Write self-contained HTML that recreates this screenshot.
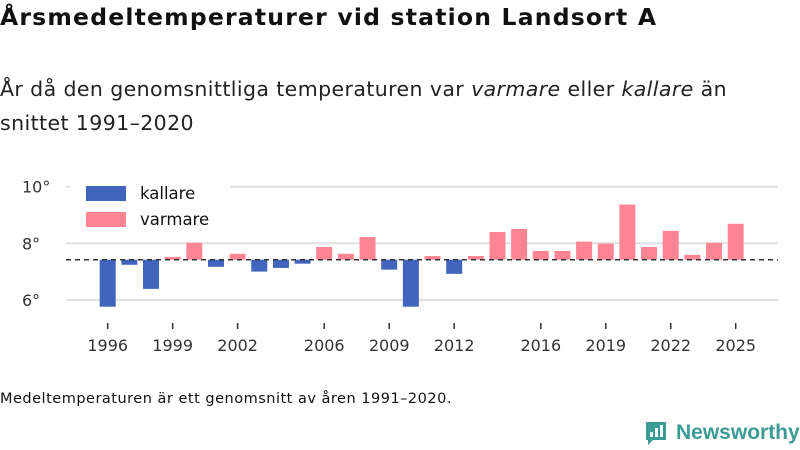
<!DOCTYPE html>
<html><head><meta charset="utf-8"><style>
body{margin:0;width:800px;height:450px;background:#fff;font-family:"DejaVu Sans","Liberation Sans",sans-serif;overflow:hidden;position:relative;color:#111}
.t{position:absolute;left:0;top:3px;font-size:23.5px;font-weight:bold;margin:0;letter-spacing:1.2px}
.s{position:absolute;left:0;top:72px;font-size:20.5px;line-height:34px;color:#222;letter-spacing:0.4px}
.f{position:absolute;left:0;top:391px;font-size:14.5px;letter-spacing:0.5px}
.logo{position:absolute;left:644px;top:420px;font-size:21px;font-weight:bold;color:#3a9c94;display:flex;align-items:center;gap:8px;font-family:"Liberation Sans",sans-serif}
svg text{font-family:"DejaVu Sans","Liberation Sans",sans-serif}
</style></head><body>
<h1 class="t">Årsmedeltemperaturer vid station Landsort A</h1>
<div class="s">År då den genomsnittliga temperaturen var <i>varmare</i> eller <i>kallare</i> än<br>snittet 1991–2020</div>
<svg id="c" width="800" height="450" style="position:absolute;left:0;top:0"></svg>
<div class="f">Medeltemperaturen är ett genomsnitt av åren 1991–2020.</div>
<div class="logo"><svg width="24" height="26" viewBox="0 0 24 26"><path d="M2 2h20v18H9l-5 5v-5H2z" fill="#3a9c94"/><rect x="6" y="12" width="3" height="5" fill="#fff"/><rect x="11" y="8" width="3" height="9" fill="#fff"/><rect x="16" y="5" width="3" height="12" fill="#fff"/></svg><span>Newsworthy</span></div>
<script>
const years=[1996,1997,1998,1999,2000,2001,2002,2003,2004,2005,2006,2007,2008,2009,2010,2011,2012,2013,2014,2015,2016,2017,2018,2019,2020,2021,2022,2023,2024,2025];
const temps=[5.76,7.24,6.39,7.52,8.02,7.17,7.63,7.0,7.13,7.28,7.87,7.63,8.22,7.07,5.76,7.55,6.92,7.55,8.40,8.51,7.73,7.73,8.06,7.99,9.37,7.87,8.44,7.59,8.02,8.69];
const baseline=7.42;
const yTicks=[6,8,10];
const xTickYears=[1996,1999,2002,2006,2009,2012,2016,2019,2022,2025];
const svg=document.getElementById('c');const NS='http://www.w3.org/2000/svg';
const y=v=>243.3-(v-8)*28.3;
const x=yr=>107.7+(yr-1996)*21.655;
function mk(t,a,p){const e=document.createElementNS(NS,t);for(const k in a)e.setAttribute(k,a[k]);(p||svg).appendChild(e);return e;}
yTicks.forEach(v=>{
 const g=mk('line',{x1:66,x2:778,y1:y(v),y2:y(v),stroke:'#e0e0e0','stroke-width':2});
 
 
 const t=mk('text',{x:22,y:y(v)+6,'font-size':16,fill:'#333'});t.textContent=v+'°';
 
 
});
years.forEach((yr,i)=>{
 const v=temps[i];const top=Math.min(y(v),y(baseline)),h=Math.abs(y(v)-y(baseline));
 const r=mk('rect',{x:x(yr)-8,y:top,width:16,height:Math.max(h,0.5),fill:v<baseline?'#4164bd':'#ff8494'});
 
 
});
const bl=mk('line',{x1:66,x2:778,y1:y(baseline),y2:y(baseline),stroke:'#333','stroke-width':1.5,'stroke-dasharray':'5,4'});


xTickYears.forEach(yr=>{
 const l=mk('line',{x1:x(yr),x2:x(yr),y1:323,y2:329,stroke:'#333','stroke-width':1.5});
 
 
 const t=mk('text',{x:x(yr),y:351,'font-size':16,fill:'#333','text-anchor':'middle'});t.textContent=yr;
 
 
});
const lb=mk('rect',{x:70,y:178,width:160,height:60,fill:'#fff'});


[['kallare','#4164bd',186],['varmare','#ff8494',212]].forEach(([n,c,yy])=>{
 const r=mk('rect',{x:86,y:yy,width:40,height:15,fill:c});
 
 
 const t=mk('text',{x:140,y:yy+13,'font-size':16.5,fill:'#111'});t.textContent=n;
 
 
});
</script>
</body></html>
